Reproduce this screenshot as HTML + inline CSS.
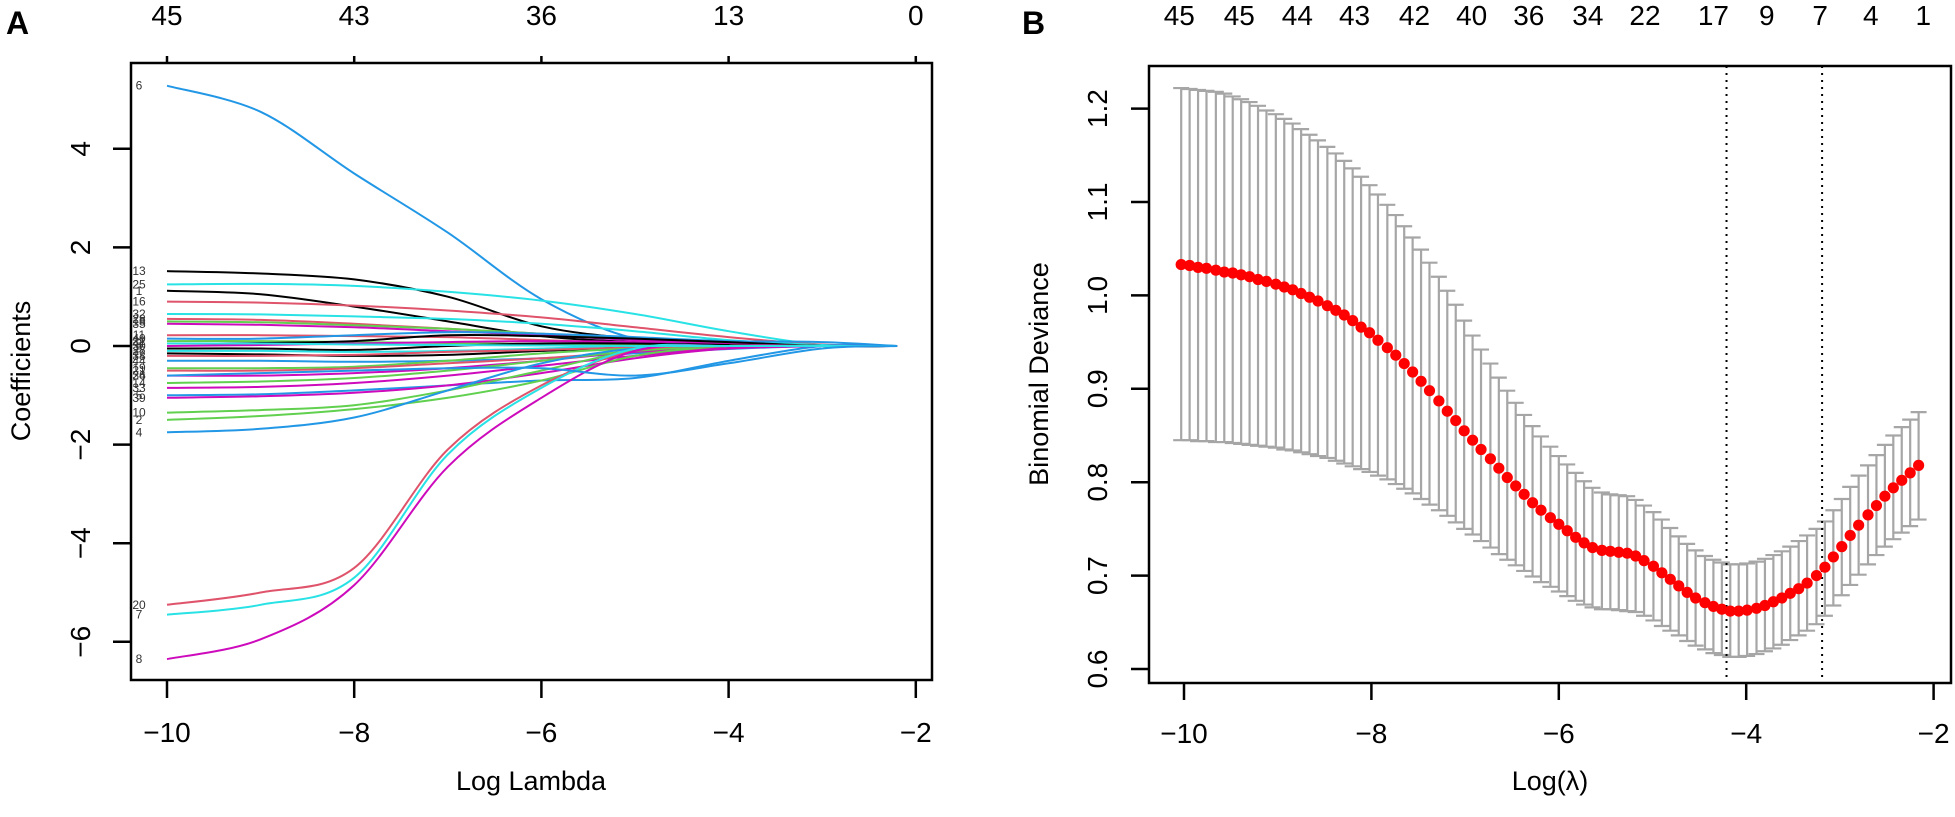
<!DOCTYPE html>
<html><head><meta charset="utf-8"><style>
html,body{margin:0;padding:0;background:#fff;}
svg{display:block;font-family:"Liberation Sans",Arial,sans-serif;}
</style></head><body>
<svg id="fig" width="1955" height="817" viewBox="0 0 1955 817" xmlns="http://www.w3.org/2000/svg">
<rect width="1955" height="817" fill="#fff"/>
<g id="panelA"></g>
<g id="panelB"></g>
</svg>
<script>
// ---------- Panel A data ----------
const aLogLambda = [-10,-9,-8,-7,-6,-5,-4,-3,-2.2];
const aXTicks = [-10,-8,-6,-4,-2];
const aYTicks = [-6,-4,-2,0,2,4];
const aTopLabels = ["45","43","36","13","0"];
const aColors = ["#2297E6","#000000","#28E2E5","#000000","#DF536B","#28E2E5","#DF536B","#61D04F","#CD0BBC","#DF536B","#2297E6","#61D04F","#000000","#CD0BBC","#000000","#28E2E5","#000000","#DF536B","#2297E6","#61D04F","#DF536B","#CD0BBC","#61D04F","#CD0BBC","#2297E6","#CD0BBC","#61D04F","#61D04F","#2297E6","#DF536B","#28E2E5","#CD0BBC","#28E2E5","#2297E6"];
const aPathLabels = ["6","13","25","1","16","32","28","18","35","11","40","22","3","30","9","27","12","38","44","19","21","36","14","33","5","39","10","2","4","20","7","8","41","24"];
const aCoefs = [
[5.28,4.75,3.5,2.3,0.95,0.15,0.02,0,0],
[1.52,1.47,1.35,1.0,0.4,0.15,0.05,0,0],
[1.25,1.26,1.22,1.1,0.92,0.65,0.3,0.02,0],
[1.12,1.05,0.8,0.5,0.2,0.08,0.03,0,0],
[0.9,0.88,0.82,0.72,0.58,0.38,0.18,0.03,0],
[0.65,0.64,0.6,0.55,0.45,0.3,0.12,0.02,0],
[0.55,0.53,0.45,0.35,0.25,0.15,0.05,0,0],
[0.5,0.48,0.42,0.35,0.25,0.15,0.05,0,0],
[0.45,0.43,0.38,0.3,0.22,0.12,0.04,0,0],
[0.22,0.22,0.2,0.18,0.12,0.06,0.02,0,0],
[0.15,0.15,0.22,0.28,0.25,0.18,0.1,0.08,0],
[0.1,0.1,0.08,0.06,0.04,0.02,0,0,0],
[0.05,0.06,0.1,0.22,0.2,0.15,0.08,0,0],
[0.0,0.02,0.05,0.08,0.1,0.08,0.03,0,0],
[-0.05,-0.05,-0.08,0.0,0.05,0.05,0.02,0,0],
[-0.1,-0.1,-0.12,-0.1,-0.05,0,0,0,0],
[-0.15,-0.17,-0.2,-0.18,-0.1,-0.03,0,0,0],
[-0.2,-0.2,-0.18,-0.12,-0.08,-0.03,0,0,0],
[-0.3,-0.3,-0.32,-0.3,-0.25,-0.15,-0.06,0,0],
[-0.45,-0.45,-0.42,-0.3,-0.15,-0.05,0,0,0],
[-0.5,-0.5,-0.45,-0.35,-0.25,-0.12,-0.04,0,0],
[-0.6,-0.6,-0.55,-0.45,-0.3,-0.12,-0.02,0,0],
[-0.75,-0.72,-0.65,-0.5,-0.3,-0.1,0,0,0],
[-0.85,-0.83,-0.75,-0.6,-0.4,-0.2,-0.05,0,0],
[-1.0,-0.98,-0.9,-0.8,-0.7,-0.65,-0.3,0,0],
[-1.05,-1.02,-0.95,-0.8,-0.55,-0.25,-0.05,0,0],
[-1.35,-1.3,-1.2,-0.9,-0.5,-0.1,0,0,0],
[-1.5,-1.42,-1.28,-1.05,-0.7,-0.2,0,0,0],
[-1.75,-1.68,-1.45,-0.9,-0.35,-0.05,0,0,0],
[-5.25,-5.0,-4.5,-2.1,-0.8,-0.1,0,0,0],
[-5.45,-5.25,-4.7,-2.2,-0.85,-0.05,0,0,0],
[-6.35,-5.95,-4.85,-2.45,-1.05,-0.1,0,0,0],
[0.05,0.05,0.03,0.02,0.01,0,0,0,0],
[-0.6,-0.55,-0.5,-0.45,-0.45,-0.6,-0.35,-0.05,0]
];

// ---------- Panel B data ----------
const bLogLambda = [-10.03,-9.94,-9.85,-9.76,-9.66,-9.57,-9.48,-9.39,-9.30,-9.21,-9.12,-9.02,-8.93,-8.84,-8.75,-8.66,-8.57,-8.47,-8.38,-8.29,-8.20,-8.11,-8.02,-7.93,-7.83,-7.74,-7.65,-7.56,-7.47,-7.38,-7.28,-7.19,-7.10,-7.01,-6.92,-6.83,-6.73,-6.64,-6.55,-6.46,-6.37,-6.28,-6.19,-6.09,-6.00,-5.91,-5.82,-5.73,-5.64,-5.54,-5.45,-5.36,-5.27,-5.18,-5.09,-4.99,-4.90,-4.81,-4.72,-4.63,-4.54,-4.44,-4.35,-4.26,-4.17,-4.08,-3.99,-3.89,-3.80,-3.71,-3.62,-3.53,-3.44,-3.35,-3.25,-3.16,-3.07,-2.98,-2.89,-2.80,-2.70,-2.61,-2.52,-2.43,-2.34,-2.25,-2.16];
const bMean = [1.033,1.032,1.030,1.029,1.027,1.025,1.024,1.022,1.020,1.017,1.015,1.012,1.009,1.006,1.002,0.998,0.994,0.989,0.984,0.979,0.973,0.966,0.960,0.952,0.944,0.936,0.927,0.918,0.908,0.898,0.887,0.876,0.866,0.855,0.845,0.835,0.825,0.815,0.805,0.796,0.787,0.778,0.770,0.762,0.755,0.748,0.741,0.735,0.730,0.727,0.726,0.725,0.724,0.721,0.716,0.710,0.703,0.696,0.689,0.682,0.676,0.671,0.667,0.664,0.662,0.662,0.663,0.665,0.668,0.672,0.676,0.681,0.686,0.692,0.700,0.709,0.720,0.731,0.743,0.754,0.765,0.775,0.785,0.794,0.802,0.810,0.818];
const bUpper = [1.222,1.221,1.220,1.219,1.218,1.216,1.213,1.210,1.207,1.203,1.198,1.194,1.189,1.184,1.178,1.172,1.166,1.159,1.152,1.144,1.136,1.127,1.118,1.108,1.097,1.086,1.074,1.062,1.049,1.035,1.020,1.005,0.990,0.973,0.957,0.942,0.927,0.912,0.898,0.885,0.872,0.860,0.849,0.838,0.828,0.819,0.810,0.801,0.794,0.789,0.787,0.786,0.785,0.781,0.775,0.768,0.760,0.751,0.742,0.734,0.727,0.721,0.717,0.714,0.712,0.712,0.713,0.715,0.718,0.722,0.726,0.731,0.737,0.743,0.750,0.758,0.770,0.782,0.795,0.807,0.818,0.829,0.840,0.850,0.859,0.867,0.875];
const bLower = [0.845,0.845,0.844,0.844,0.843,0.843,0.842,0.841,0.840,0.839,0.838,0.837,0.835,0.834,0.832,0.830,0.828,0.826,0.823,0.820,0.817,0.814,0.811,0.807,0.803,0.798,0.793,0.788,0.782,0.776,0.770,0.764,0.757,0.750,0.744,0.737,0.730,0.723,0.717,0.711,0.705,0.699,0.693,0.688,0.683,0.678,0.673,0.669,0.666,0.664,0.664,0.663,0.662,0.661,0.657,0.652,0.646,0.641,0.636,0.630,0.625,0.621,0.617,0.615,0.613,0.613,0.614,0.616,0.619,0.622,0.626,0.631,0.636,0.641,0.648,0.657,0.668,0.679,0.690,0.701,0.712,0.722,0.731,0.739,0.746,0.753,0.760];
const bXTicks = [-10,-8,-6,-4,-2];
const bYTicks = [0.6,0.7,0.8,0.9,1.0,1.1,1.2];
const bTopLabels = ["45","45","44","43","42","40","36","34","22","17","9","7","4","1"];
const bTopAt = [-10.05,-9.41,-8.79,-8.18,-7.54,-6.93,-6.32,-5.69,-5.08,-4.35,-3.78,-3.21,-2.67,-2.11];
const bVLines = [-4.21,-3.19];

const NS = "http://www.w3.org/2000/svg";
function mk(parent, tag, attrs, text){
  const e = document.createElementNS(NS, tag);
  for (const k in attrs) e.setAttribute(k, attrs[k]);
  if (text !== undefined) e.textContent = text;
  parent.appendChild(e);
  return e;
}
const ax = v => 167 + (v + 10) * 93.6;
const ay = v => 346 - 49.3 * v;
const bx = v => 1184 + (v + 10) * 93.7;
const by = v => 669 - (v - 0.6) * 934;

function smoothPath(pts){
  let d = "M" + pts[0][0].toFixed(1) + "," + pts[0][1].toFixed(1);
  for (let i = 0; i < pts.length - 1; i++){
    const p0 = pts[Math.max(0,i-1)], p1 = pts[i], p2 = pts[i+1], p3 = pts[Math.min(pts.length-1,i+2)];
    const c1x = p1[0] + (p2[0]-p0[0])/6, c1y = p1[1] + (p2[1]-p0[1])/6;
    const c2x = p2[0] - (p3[0]-p1[0])/6, c2y = p2[1] - (p3[1]-p1[1])/6;
    d += " C" + c1x.toFixed(1) + "," + c1y.toFixed(1) + " " + c2x.toFixed(1) + "," + c2y.toFixed(1) + " " + p2[0].toFixed(1) + "," + p2[1].toFixed(1);
  }
  return d;
}

// ---------- Panel A ----------
const A = document.getElementById("panelA");
const aLines = mk(A, "g", {});


aCoefs.forEach((series, i) => {
  const pts = series.map((c, j) => [ax(aLogLambda[j]), ay(c)]);
  const p = mk(aLines, "path", {d: smoothPath(pts), fill: "none", stroke: aColors[i], "stroke-width": 2});
  
  
  if (aPathLabels[i]) {
    const t = mk(aLines, "text", {x: 139, y: ay(series[0]) + 4, "font-size": 12, fill: "#333", "text-anchor": "middle"}, aPathLabels[i]);
    
    
  }
});
const aBox = mk(A, "rect", {x: 131, y: 63, width: 801, height: 617, fill: "none", stroke: "#000", "stroke-width": 2.5});


aXTicks.forEach((v, i) => {
  const l = mk(A, "line", {x1: ax(v), x2: ax(v), y1: 680, y2: 698, stroke: "#000", "stroke-width": 2.5});
  
  
  const t = mk(A, "text", {x: ax(v), y: 742, "font-size": 28, "text-anchor": "middle"}, v < 0 ? "\u2212" + Math.abs(v) : String(v));
  
  
  const tt = mk(A, "line", {x1: ax(v), x2: ax(v), y1: 63, y2: 56, stroke: "#000", "stroke-width": 2.5});
  
  
  const tl = mk(A, "text", {x: ax(v), y: 25, "font-size": 28, "text-anchor": "middle"}, aTopLabels[i]);
  
  
});
aYTicks.forEach(v => {
  const l = mk(A, "line", {x1: 113, x2: 131, y1: ay(v), y2: ay(v), stroke: "#000", "stroke-width": 2.5});
  
  
  const t = mk(A, "text", {x: 90, y: ay(v), "font-size": 28, "text-anchor": "middle", transform: "rotate(-90 90 " + ay(v) + ")"}, v < 0 ? "\u2212" + Math.abs(v) : String(v));
  
  
});
const aXT = mk(A, "text", {x: 531, y: 790, "font-size": 27, "text-anchor": "middle"}, "Log Lambda");


const aYT = mk(A, "text", {x: 30, y: 371, "font-size": 27, "text-anchor": "middle", transform: "rotate(-90 30 371)"}, "Coefficients");


const aLab = mk(A, "text", {x: 6, y: 34, "font-size": 32, "font-weight": "bold"}, "A");



// ---------- Panel B ----------
const B = document.getElementById("panelB");
const bars = mk(B, "g", {stroke: "#a6a6a6", "stroke-width": 2.2, fill: "none"});


bLogLambda.forEach((v, i) => {
  const x = bx(v), yu = by(bUpper[i]), yl = by(bLower[i]);
  const p = mk(bars, "path", {d: "M" + x + "," + yu + "V" + yl + "M" + (x-8) + "," + yu + "H" + (x+8) + "M" + (x-8) + "," + yl + "H" + (x+8)});
  
  
});
bVLines.forEach(v => {
  const l = mk(B, "line", {x1: bx(v), x2: bx(v), y1: 66, y2: 683, stroke: "#000", "stroke-width": 2, "stroke-dasharray": "2,5"});
  
  
});
const dots = mk(B, "g", {fill: "#ff0000"});


bLogLambda.forEach((v, i) => {
  const c = mk(dots, "circle", {cx: bx(v), cy: by(bMean[i]), r: 5.6});
  
  
});
const bBox = mk(B, "rect", {x: 1149, y: 66, width: 802, height: 617, fill: "none", stroke: "#000", "stroke-width": 2.5});


bXTicks.forEach(v => {
  const l = mk(B, "line", {x1: bx(v), x2: bx(v), y1: 683, y2: 700, stroke: "#000", "stroke-width": 2.5});
  
  
  const t = mk(B, "text", {x: bx(v), y: 743, "font-size": 28, "text-anchor": "middle"}, "\u2212" + Math.abs(v));
  
  
});
bYTicks.forEach(v => {
  const l = mk(B, "line", {x1: 1131, x2: 1149, y1: by(v), y2: by(v), stroke: "#000", "stroke-width": 2.5});
  
  
  const t = mk(B, "text", {x: 1107, y: by(v), "font-size": 28, "text-anchor": "middle", transform: "rotate(-90 1107 " + by(v) + ")"}, v.toFixed(1));
  
  
});
bTopLabels.forEach((s, i) => {
  const t = mk(B, "text", {x: bx(bTopAt[i]), y: 25, "font-size": 28, "text-anchor": "middle"}, s);
  
  
});
const bXT = mk(B, "text", {x: 1550, y: 790, "font-size": 27, "text-anchor": "middle"}, "Log(\u03bb)");


const bYT = mk(B, "text", {x: 1048, y: 374, "font-size": 27, "text-anchor": "middle", transform: "rotate(-90 1048 374)"}, "Binomial Deviance");


const bLab = mk(B, "text", {x: 1022, y: 34, "font-size": 32, "font-weight": "bold"}, "B");


</script>
</body></html>
